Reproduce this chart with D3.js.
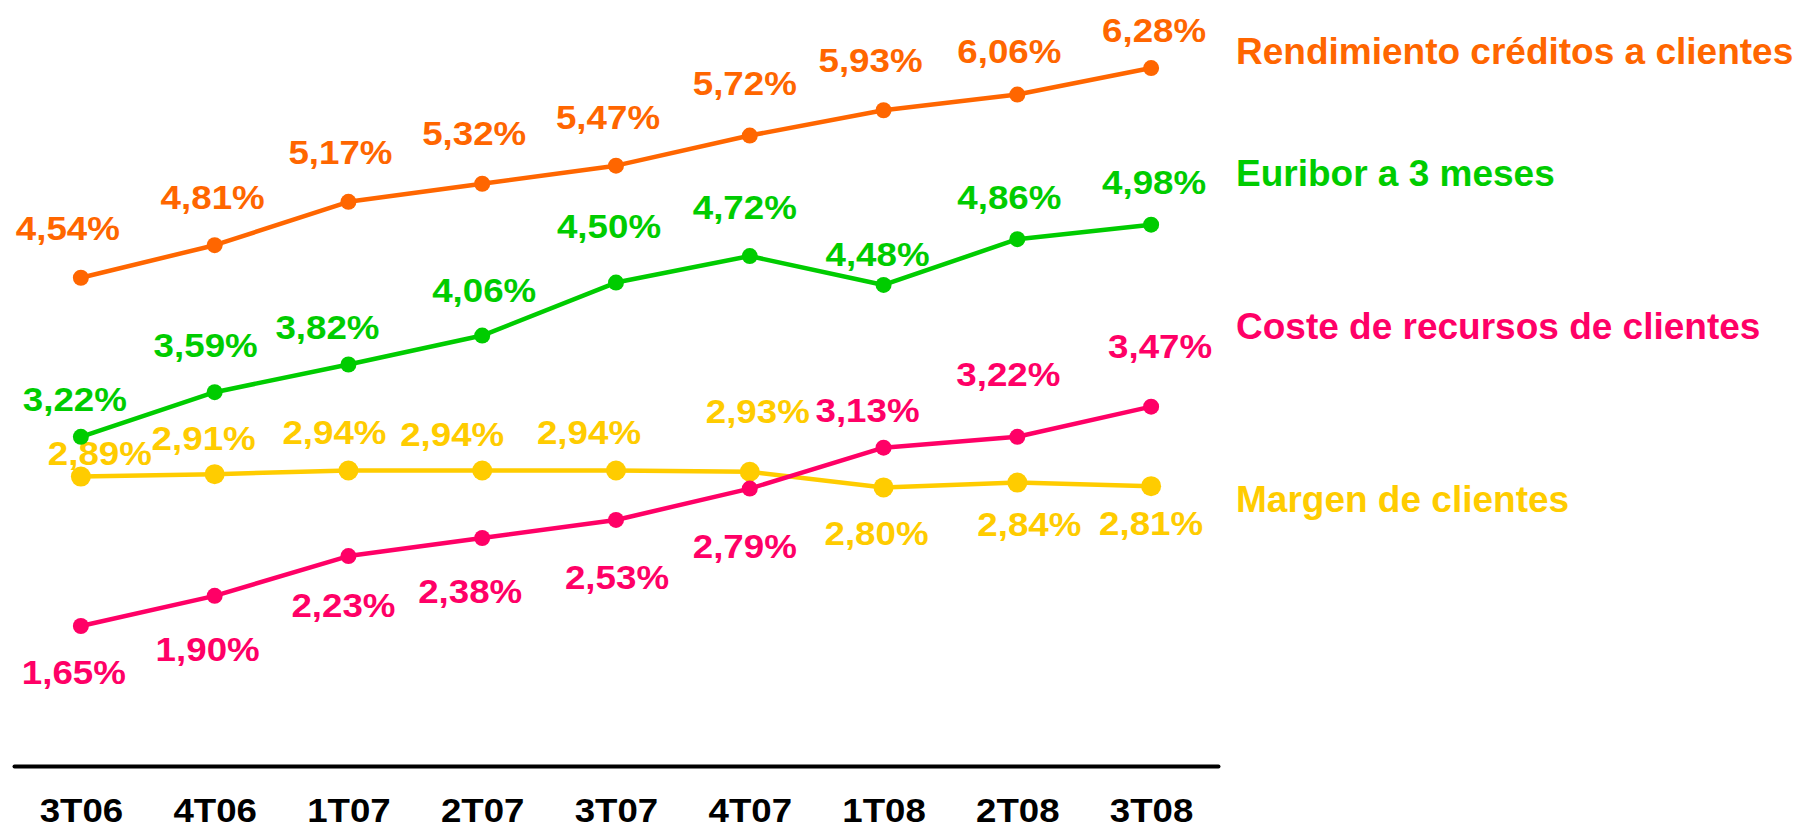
<!DOCTYPE html>
<html>
<head>
<meta charset="utf-8">
<script src="https://cdn.jsdelivr.net/npm/d3@7"></script>
<style>
  html, body { margin: 0; padding: 0; background: #fff; }
  svg { display: block; font-family: "Liberation Sans", Arial, sans-serif; font-weight: bold; }
</style>
</head>
<body>
<div id="chart"></div>
<script>
const categories = ["3T06", "4T06", "1T07", "2T07", "3T07", "4T07", "1T08", "2T08", "3T08"];

const rendimiento = [4.54, 4.81, 5.17, 5.32, 5.47, 5.72, 5.93, 6.06, 6.28];
const euribor     = [3.22, 3.59, 3.82, 4.06, 4.50, 4.72, 4.48, 4.86, 4.98];
const coste       = [1.65, 1.90, 2.23, 2.38, 2.53, 2.79, 3.13, 3.22, 3.47];
const margen      = [2.89, 2.91, 2.94, 2.94, 2.94, 2.93, 2.80, 2.84, 2.81];

const seriesNames = ["Rendimiento créditos a clientes", "Euribor a 3 meses", "Coste de recursos de clientes", "Margen de clientes"];
const seriesColors = ["#ff6600", "#00cc00", "#ff0066", "#ffcc00"];

// where each value label sits relative to its dot (label centre, px)
const labelOffsets = [
  [[-13,-50],[-2,-48],[-8,-50],[-8,-51],[-8,-49],[-5,-53],[-13,-50],[-8,-44],[3,-38]],
  [[-6,-38],[-9,-47],[-21,-38],[2,-46],[-7,-57],[-5,-49],[-6,-31],[-8,-42],[3,-43]],
  [[-7,46],[-7,53],[-5,49],[-12,53],[1,57],[-5,57],[-16,-38],[-9,-63],[9,-61]],
  [[19,-24],[-11,-36],[-14,-39],[-30,-37],[-27,-39],[8,-61],[-7,45],[12,41],[0,37]]
];
const legendY = [64, 186, 339, 512];
const dotRadius = [8, 8, 8, 10];

const width = 1798, height = 829;

const svg = d3.select("#chart").append("svg")
  .attr("width", width)
  .attr("height", height);

const x = d3.scalePoint()
  .domain(categories)
  .range([14, 1218])
  .padding(0.5);

const y = d3.scaleLinear()
  .domain([0, 7])
  .range([824.8, -18.7]);

const series = [rendimiento, euribor, coste, margen].map((values, i) => ({
  name: seriesNames[i],
  color: seriesColors[i],
  r: dotRadius[i],
  points: values.map((v, j) => ({ cat: categories[j], v: v, off: labelOffsets[i][j] }))
}));

// axis: only the baseline and the category names
const axis = svg.append("g")
  .attr("transform", "translate(0,766)")
  .call(d3.axisBottom(x).tickSize(0).tickSizeOuter(0));

axis.select(".domain")
  .attr("stroke", "#000")
  .attr("stroke-width", 4)
  .attr("stroke-linecap", "round");

axis.selectAll(".tick text")
  .attr("y", 56)
  .attr("dy", 0)
  .attr("transform", "scale(1.11,1)")
  .attr("fill", "#000")
  .style("font-family", "\"Liberation Sans\", Arial, sans-serif")
  .style("font-weight", "bold")
  .style("font-size", "33px");

const line = d3.line()
  .x(d => x(d.cat))
  .y(d => y(d.v));

const fmt = v => v.toFixed(2).replace(".", ",") + "%";

// draw yellow first so the other lines sit on top of it
const order = [3, 0, 1, 2];

const g = svg.selectAll("g.series")
  .data(order.map(i => series[i]))
  .enter().append("g")
  .attr("class", "series");

g.append("path")
  .attr("d", d => line(d.points))
  .attr("fill", "none")
  .attr("stroke", d => d.color)
  .attr("stroke-width", 4.5)
  .attr("stroke-linejoin", "round");

g.selectAll("circle")
  .data(d => d.points.map(p => ({ ...p, color: d.color, r: d.r })))
  .enter().append("circle")
  .attr("cx", d => x(d.cat))
  .attr("cy", d => y(d.v))
  .attr("r", d => d.r)
  .attr("fill", d => d.color);

g.selectAll("text.value")
  .data(d => d.points.map(p => ({ ...p, color: d.color })))
  .enter().append("text")
  .attr("class", "value")
  .attr("transform", d => `translate(${x(d.cat) + d.off[0]},${y(d.v) + d.off[1]}) scale(1.08,1)`)
  .attr("text-anchor", "middle")
  .attr("dy", "0.36em")
  .attr("fill", d => d.color)
  .style("font-size", "34px")
  .text(d => fmt(d.v));

svg.selectAll("text.legend")
  .data(series)
  .enter().append("text")
  .attr("class", "legend")
  .attr("x", 1236)
  .attr("y", (d, i) => legendY[i])
  .attr("fill", d => d.color)
  .style("font-size", "37px")
  .text(d => d.name);
</script>
</body>
</html>
